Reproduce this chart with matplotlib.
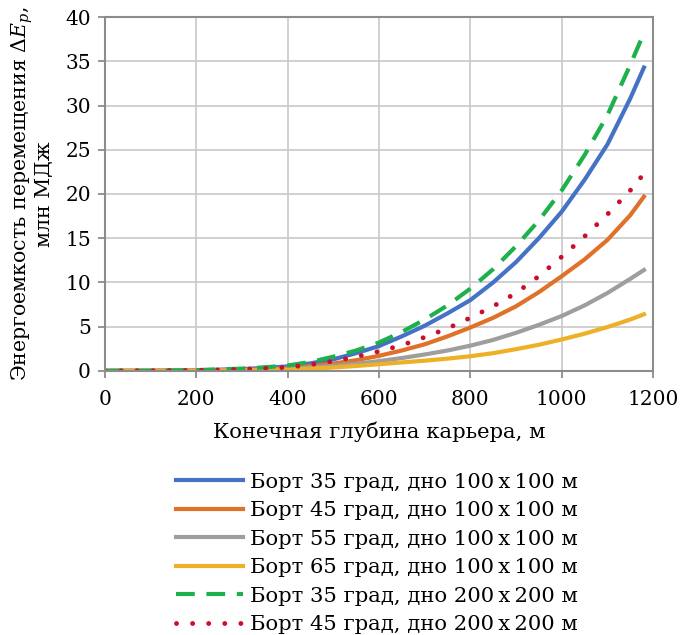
import numpy as np
import matplotlib.pyplot as plt

# Final pit depth, m
depth = [0, 100, 200, 300, 350, 400, 450, 500, 550, 600, 650, 700, 750,
         800, 850, 900, 950, 1000, 1050, 1100, 1150, 1180]

# Energy intensity, mln MJ
b35_100 = [0, 0.01, 0.06, 0.2, 0.33, 0.5, 0.85, 1.3, 2.0, 2.8, 3.9, 5.1,
           6.5, 8.0, 10.0, 12.3, 15.0, 18.0, 21.6, 25.6, 30.8, 34.3]
b45_100 = [0, 0.01, 0.04, 0.13, 0.2, 0.3, 0.55, 0.83, 1.2, 1.7, 2.3, 3.0,
           3.9, 4.9, 6.0, 7.3, 8.9, 10.7, 12.6, 14.8, 17.6, 19.7]
b55_100 = [0, 0.0, 0.03, 0.08, 0.13, 0.2, 0.38, 0.57, 0.8, 1.1, 1.45, 1.85,
           2.3, 2.85, 3.5, 4.3, 5.2, 6.2, 7.4, 8.8, 10.4, 11.4]
b65_100 = [0, 0.0, 0.02, 0.05, 0.08, 0.12, 0.24, 0.38, 0.55, 0.75, 0.95,
           1.15, 1.38, 1.65, 2.0, 2.45, 2.95, 3.55, 4.2, 4.95, 5.8, 6.4]
b35_200 = [0, 0.01, 0.08, 0.25, 0.4, 0.6, 1.0, 1.6, 2.3, 3.2, 4.4, 5.8,
           7.4, 9.3, 11.5, 14.1, 17.0, 20.4, 24.4, 28.9, 34.6, 38.2]
b45_200 = [0, 0.01, 0.05, 0.17, 0.28, 0.4, 0.7, 1.1, 1.6, 2.2, 2.9, 3.8,
           4.8, 6.0, 7.3, 8.8, 10.7, 12.9, 15.2, 17.7, 20.4, 22.3]

labels = [
    'Борт 35 град, дно 100\u2009x\u2009100 м',
    'Борт 45 град, дно 100\u2009x\u2009100 м',
    'Борт 55 град, дно 100\u2009x\u2009100 м',
    'Борт 65 град, дно 100\u2009x\u2009100 м',
    'Борт 35 град, дно 200\u2009x\u2009200 м',
    'Борт 45 град, дно 200\u2009x\u2009200 м',
]

plt.rcParams['font.family'] = 'DejaVu Serif'
plt.rcParams['mathtext.fontset'] = 'dejavuserif'

fig = plt.figure(figsize=(6.81, 6.35), dpi=100)
ax = fig.add_axes([0.154, 0.416, 0.805, 0.557])

lw = 3
ax.plot(depth, b35_100, color='#4472C4', lw=lw, label=labels[0])
ax.plot(depth, b45_100, color='#E07128', lw=lw, label=labels[1])
ax.plot(depth, b55_100, color='#9E9E9E', lw=lw, label=labels[2])
ax.plot(depth, b65_100, color='#EDB026', lw=lw, label=labels[3])
ax.plot(depth, b35_200, color='#1DB04B', lw=lw, dashes=(4.5, 2.8),
        label=labels[4])
ax.plot(depth, b45_200, color='#C8102E', lw=lw + 0.5, dashes=(0.01, 3.3),
        dash_capstyle='round', label=labels[5])

ax.set_xlim(0, 1200)
ax.set_ylim(0, 40)
ax.set_xticks(np.arange(0, 1201, 200))
ax.set_yticks(np.arange(0, 41, 5))
ax.grid(True, color='#C8C8C8', lw=1.2)
ax.set_axisbelow(True)
for s in ax.spines.values():
    s.set_color('#8C8C8C')
    s.set_linewidth(1.5)
ax.tick_params(direction='out', length=5, width=1.3, color='#8C8C8C',
               labelsize=14.5)
ax.tick_params(axis='x', pad=9)
ax.tick_params(axis='y', pad=5)

ax.set_xlabel('Конечная глубина карьера, м', fontsize=15.2, labelpad=9)
ax.set_ylabel('Энергоемкость перемещения $\\Delta E_p$,\nмлн МДж',
              fontsize=14.8, labelpad=8, linespacing=1.0)

fig.legend(loc='upper center', bbox_to_anchor=(0.553, 0.272), frameon=False,
           fontsize=15.2, handlelength=3.2, handletextpad=0.3,
           labelspacing=0.45, borderpad=0)

fig.savefig('out.png', dpi=100)
